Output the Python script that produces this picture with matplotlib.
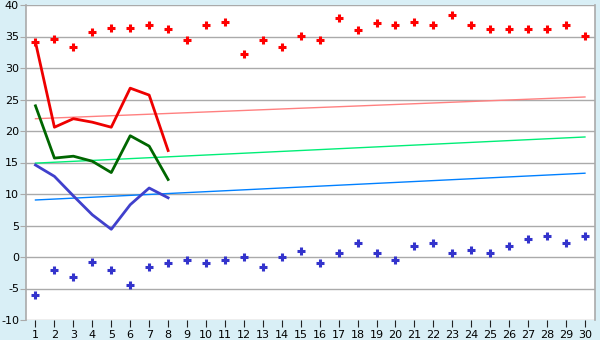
import matplotlib.pyplot as plt
import numpy as np

plt.rcParams['axes.unicode_minus'] = False

days = np.arange(1, 31)

# upper and lower scatter points
upper_pts = [34.1, 34.6, 33.3, 35.7, 36.3, 36.3, 36.8, 36.2, 34.4, 36.8,
             37.3, 32.2, 34.4, 33.3, 35.1, 34.4, 37.9, 36.0, 37.1, 36.8,
             37.3, 36.8, 38.4, 36.8, 36.2, 36.2, 36.2, 36.2, 36.8, 35.1]
lower_pts = [-6.0, -2.1, -3.2, -0.8, -2.1, -4.4, -1.6, -0.95, -0.5, -0.95,
             -0.5, 0.0, -1.6, 0.0, 0.95, -0.95, 0.6, 2.2, 0.6, -0.5,
             1.75, 2.2, 0.6, 1.1, 0.6, 1.75, 2.85, 3.3, 2.2, 3.3]

# lines for first 8 days
line_days = np.arange(1, 9)
red_line = [34.1, 20.6, 21.95, 21.4, 20.6, 26.8, 25.7, 16.9]
green_line = [24.0, 15.7, 16.0, 15.2, 13.4, 19.25, 17.6, 12.3]
blue_line = [14.6, 12.8, 9.7, 6.7, 4.4, 8.3, 10.95, 9.4]

# trend lines (start/end)
trend_x = [1, 30]
trend_red = [21.95, 25.4]
trend_green = [14.9, 19.05]
trend_blue = [9.05, 13.3]

bg = '#d9eff6'
fig = plt.figure(figsize=(6, 3.4), dpi=100, facecolor=bg)
ax = fig.add_axes([26/600, 20/340, 569/600, 315/340])
ax.set_facecolor('white')

ax.set_xlim(0.5, 30.53)
ax.set_ylim(-10, 40)
ax.set_yticks(np.arange(-10, 41, 5))
ax.set_xticks(days)
ax.yaxis.grid(True, color='#aaaaaa', linewidth=1)
ax.set_axisbelow(True)

for s in ['top', 'bottom']:
    ax.spines[s].set_visible(False)
for s in ['left', 'right']:
    ax.spines[s].set_color('#aaaaaa')
    ax.spines[s].set_linewidth(1.2)

ax.tick_params(axis='y', length=4, color='#aaaaaa', labelsize=8, pad=1)
ax.tick_params(axis='x', length=5, color='#222222', labelsize=8, pad=2)

ax.plot(trend_x, trend_red, color='#ff8080', linewidth=1)
ax.plot(trend_x, trend_green, color='#00ee77', linewidth=1)
ax.plot(trend_x, trend_blue, color='#0080ff', linewidth=1)

ax.plot(line_days, red_line, color='#ee0000', linewidth=2)
ax.plot(line_days, green_line, color='#006600', linewidth=2)
ax.plot(line_days, blue_line, color='#4040cc', linewidth=2)

ax.plot(days, upper_pts, linestyle='none', marker='+', markersize=6,
        color='#ff0000', markeredgewidth=2.2)
ax.plot(days, lower_pts, linestyle='none', marker='+', markersize=6,
        color='#3333cc', markeredgewidth=2.2)

fig.savefig('out.png', dpi=100, facecolor=bg)
